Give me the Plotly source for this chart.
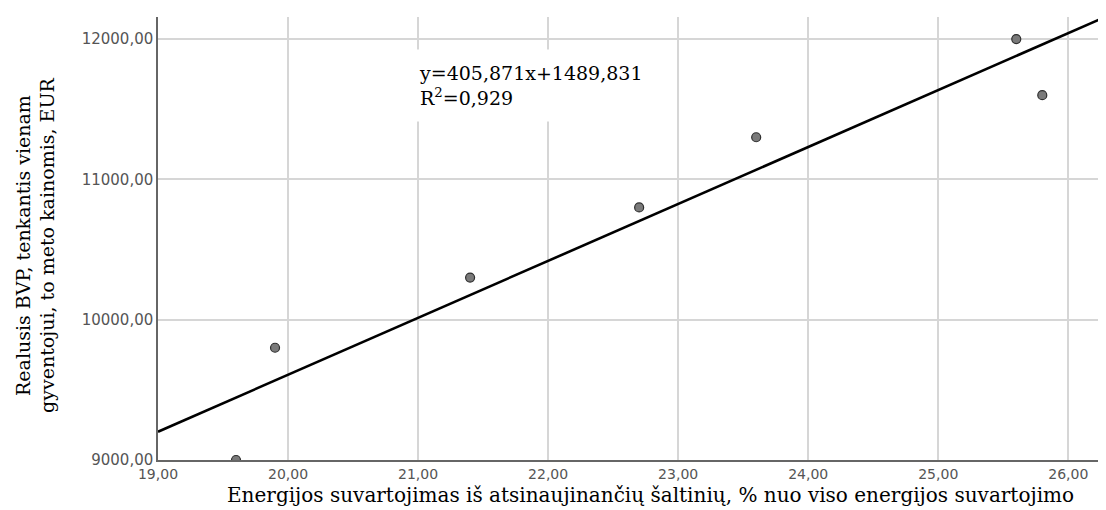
import plotly.graph_objects as go

# energy share from renewables (%) vs real GDP per capita (EUR)
renew_share = [19.6, 19.9, 21.4, 22.7, 23.6, 25.6, 25.8]
gdp_per_capita = [9000, 9800, 10300, 10800, 11300, 12000, 11600]

# fitted line reported on the chart
slope = 405.871
intercept = 1489.831
r_squared = 0.929

x_ticks = [19, 20, 21, 22, 23, 24, 25, 26]
y_ticks = [9000, 10000, 11000, 12000]

x_range = [19, 26.29]
y_range = [9000, 12157]

x_title = "Energijos suvartojimas iš atsinaujinančių šaltinių, % nuo viso energijos suvartojimo"
y_title = "Realusis BVP, tenkantis vienam<br>gyventojui, to meto kainomis, EUR"

serif = "DejaVu Serif"
sans = "DejaVu Sans"

fig = go.Figure()

fit_x = x_range
fit_y = [slope * v + intercept for v in fit_x]

fig.add_trace(go.Scatter(x = fit_x, y = fit_y, mode = "lines",
                         line = dict(color = "black", width = 2.6),
                         showlegend = False, hoverinfo = "skip"))

fig.add_trace(go.Scatter(x = renew_share, y = gdp_per_capita, mode = "markers",
                         marker = dict(size = 9, color = "#7a7a7a",
                                       line = dict(color = "#2e2e2e", width = 1.2)),
                         showlegend = False))

eq_text = ("y=" + f"{slope:.3f}".replace(".", ",") + "x+" + f"{intercept:.3f}".replace(".", ",")
           + "<br>R<sup>2</sup>=" + f"{r_squared:.3f}".replace(".", ","))

fig.add_annotation(x = 20.91, y = 11670, xref = "x", yref = "y",
                   text = eq_text, showarrow = False, align = "left",
                   xanchor = "left", yanchor = "middle",
                   font = dict(family = serif, size = 19, color = "black"),
                   bgcolor = "white", borderpad = 12)

# axis titles placed as annotations so they sit where the original has them
fig.add_annotation(x = 0.519, y = -0.079, xref = "paper", yref = "paper",
                   text = x_title, showarrow = False,
                   xanchor = "center", yanchor = "middle",
                   font = dict(family = serif, size = 20, color = "black"))

fig.add_annotation(x = -0.13, y = 0.485, xref = "paper", yref = "paper",
                   text = y_title, showarrow = False, textangle = -90,
                   xanchor = "center", yanchor = "middle",
                   font = dict(family = serif, size = 19, color = "black"))

fig.update_layout(width = 1098, height = 502,
                  margin = dict(l = 150, r = 0, t = 9, b = 50),
                  plot_bgcolor = "white", paper_bgcolor = "white",
                  separators = ", ",
                  xaxis = dict(range = x_range, tickvals = x_ticks, tickformat = ".2f",
                               showgrid = True, gridcolor = "#d6d6d6", gridwidth = 1.5,
                               showline = True, linecolor = "#666666", linewidth = 1.5,
                               zeroline = False, ticks = "",
                               tickfont = dict(family = sans, size = 14, color = "#555555")),
                  yaxis = dict(range = y_range, tickvals = y_ticks, tickformat = ".2f",
                               showgrid = True, gridcolor = "#d6d6d6", gridwidth = 1.5,
                               showline = True, linecolor = "#666666", linewidth = 1.5,
                               zeroline = False, ticks = "",
                               tickfont = dict(family = sans, size = 15, color = "#555555")))

fig.write_html("out.html")
